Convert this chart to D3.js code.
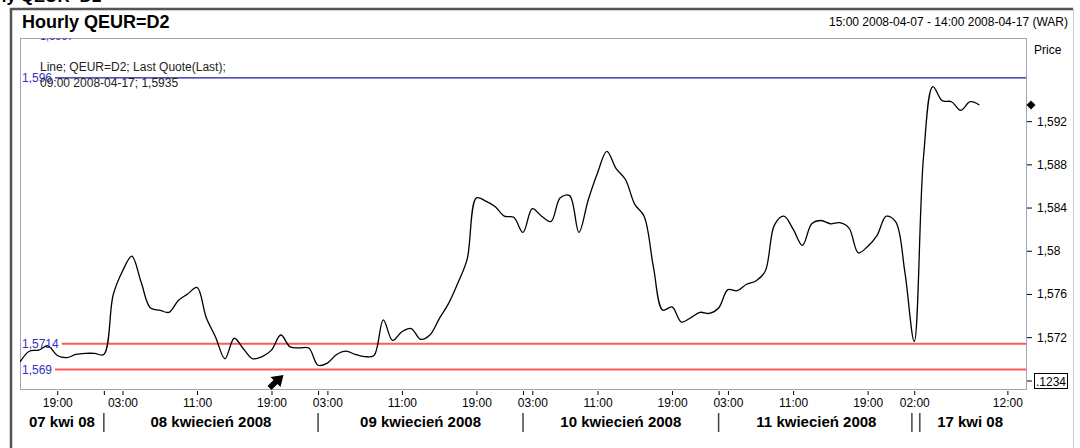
<!DOCTYPE html>
<html>
<head>
<meta charset="utf-8">
<script src="https://cdn.jsdelivr.net/npm/d3@7"></script>
<style>
  body { margin: 0; background: #fff; }
  svg { display: block; font-family: "Liberation Sans", Arial, sans-serif; }
</style>
</head>
<body>
<div id="chart"></div>
<script>
// trading days and the hours that have a quote (hours with no quotes are skipped)
const days = ["2008-04-07", "2008-04-08", "2008-04-09", "2008-04-10", "2008-04-11", "2008-04-17"];
const dayLabels = ["07 kwi 08", "08 kwiecień 2008", "09 kwiecień 2008", "10 kwiecień 2008", "11 kwiecień 2008", "17 kwi 08"];
const dayHours = [
  [15, 16, 17, 18, 19, 20, 21, 22, 23],
  [0, 2, 3, 4, 5, 6, 7, 8, 9, 10, 11, 12, 13, 14, 15, 16, 17, 18, 19, 20, 21, 22, 23],
  [0, 3, 4, 5, 6, 7, 8, 9, 10, 11, 12, 13, 14, 15, 16, 17, 18, 19, 20, 21, 22, 23],
  [0, 3, 5, 6, 7, 8, 9, 10, 11, 12, 13, 14, 15, 16, 17, 18, 19, 20, 21, 22, 23],
  [0, 3, 5, 6, 7, 8, 9, 10, 11, 12, 13, 14, 15, 16, 17, 18, 19, 20, 21, 22, 23],
  [2, 3, 4, 5, 6, 7, 8, 9, 10, 11, 12, 13, 14]
];
// labelled hours on each day
const tickHours = [[19], [3, 11, 19], [3, 11, 19], [3, 11, 19], [3, 11, 19], [2, 12]];

// hourly last quote, 07-04 15:00 .. 17-04 09:00
const price = [
  1.5697, 1.5707, 1.5708, 1.5712, 1.5703, 1.5701, 1.5704, 1.5705, 1.5705,
  1.5704, 1.5759, 1.5781, 1.5795, 1.5771, 1.5747, 1.5745, 1.5743, 1.5754, 1.5760, 1.5766,
  1.5738, 1.5720, 1.5700, 1.5719, 1.5709, 1.5700, 1.5702, 1.5708, 1.5722, 1.5711, 1.5710, 1.5710,
  1.5694, 1.5696, 1.5704, 1.5707, 1.5704, 1.5702, 1.5703, 1.5736, 1.5717, 1.5725, 1.5728,
  1.5718, 1.5722, 1.5737, 1.5751, 1.5770, 1.5792, 1.5849, 1.5846, 1.5841, 1.5832, 1.5831,
  1.5817, 1.5839, 1.5832, 1.5827, 1.5849, 1.5851, 1.5817, 1.5847, 1.5872, 1.5892,
  1.5876, 1.5866, 1.5843, 1.5832, 1.5785, 1.5745, 1.5748, 1.5734, 1.5738, 1.5743, 1.5742,
  1.5747, 1.5764, 1.5763, 1.5769, 1.5772, 1.5781, 1.5824, 1.5832, 1.5820, 1.5805, 1.5825,
  1.5828, 1.5825, 1.5826, 1.5821, 1.5798, 1.5804, 1.5814, 1.5832, 1.5827, 1.5780,
  1.5716, 1.5887, 1.5952, 1.5939, 1.5938, 1.5930, 1.5938, 1.5935
];

const refLines = [1.5714, 1.569];   // red
const highLine = 1.596;             // blue
const yTicks = [1.572, 1.576, 1.58, 1.584, 1.588, 1.592];

const W = 1080, H = 448;
const plot = {left: 20, top: 38, right: 1026, bottom: 389};

const pl = d3.formatLocale({decimal: ",", thousands: " ", grouping: [3], currency: ["", " zł"]});
const fmt = pl.format(".4~f");
const pad = d => String(d).padStart(2, "0");

// flatten days into one ordinal time line
const points = [];
days.forEach((day, di) => {
  dayHours[di].forEach(h => points.push({day: di, date: day, hour: h, i: points.length}));
});
points.forEach(p => { p.value = price[p.i]; });
const quotes = points.filter(p => p.value !== undefined);

const x = d3.scaleLinear().domain([0, points.length - 1]).range([plot.left, plot.right]);
const y = d3.scaleLinear().domain([1.5672, 1.5997]).range([plot.bottom, plot.top]);

const svg = d3.select("#chart").append("svg")
    .attr("width", W).attr("height", H);

svg.append("defs").append("clipPath").attr("id", "clip")
  .append("rect")
    .attr("x", plot.left).attr("y", plot.top)
    .attr("width", plot.right - plot.left).attr("height", plot.bottom - plot.top);

// window heading cut off at the top
svg.append("text")
    .attr("x", -38).attr("y", 2)
    .style("font-size", "17px").style("font-weight", "bold")
    .text("Hourly QEUR=D2");

// outer frame
svg.append("path")
    .attr("d", `M11,${H} V9 H1073`)
    .attr("fill", "none").attr("stroke", "#555").attr("stroke-width", 2.5);
svg.append("line")
    .attr("x1", 1073.5).attr("x2", 1073.5).attr("y1", 9).attr("y2", H)
    .attr("stroke", "#ccc");

svg.append("text")
    .attr("x", 22).attr("y", 28)
    .style("font-size", "18px").style("font-weight", "bold")
    .text("Hourly QEUR=D2");

const first = points[0], last = points[points.length - 1];
svg.append("text")
    .attr("x", 1068).attr("y", 26)
    .attr("text-anchor", "end")
    .style("font-size", "12px")
    .text(`${pad(first.hour)}:00 ${first.date} - ${pad(last.hour)}:00 ${last.date} (WAR)`);

svg.append("text")
    .attr("x", 1034).attr("y", 54)
    .style("font-size", "12px")
    .text("Price");

// plot box
svg.append("rect")
    .attr("x", plot.left + 0.5).attr("y", plot.top + 0.5)
    .attr("width", plot.right - plot.left).attr("height", plot.bottom - plot.top)
    .attr("fill", "#fff").attr("stroke", "#a4a4b8");

const g = svg.append("g").attr("clip-path", "url(#clip)");

// value label clipped at the top edge
g.append("text")
    .attr("x", 40).attr("y", 40)
    .attr("fill", "#2a2ab0")
    .style("font-size", "11px")
    .text(fmt(y.domain()[1]));

// reference lines with labels
function refLine(v, color, labelColor, width) {
  const t = svg.append("text")
      .attr("x", 22).attr("y", y(v) + 4)
      .attr("fill", labelColor)
      .style("font-size", "12px")
      .text(fmt(v));
  const x0 = 22 + t.node().getComputedTextLength() + 3;
  g.append("line")
      .attr("x1", x0).attr("x2", plot.right)
      .attr("y1", y(v)).attr("y2", y(v))
      .attr("stroke", color).attr("stroke-width", width);
  t.raise();
}
refLines.forEach(v => refLine(v, "#ff5a5a", "#3232c0", 2));
refLine(highLine, "#1a1aa8", "#3232c0", 1.2);

// legend
const lastQ = quotes[quotes.length - 1];
svg.append("text")
    .attr("x", 40).attr("y", 71)
    .style("font-size", "12px").attr("fill", "#222")
    .text("Line; QEUR=D2; Last Quote(Last);");
svg.append("text")
    .attr("x", 40).attr("y", 87)
    .style("font-size", "12px").attr("fill", "#222")
    .text(`${pad(lastQ.hour)}:00 ${lastQ.date}; ${fmt(lastQ.value)}`);

// price line
const line = d3.line()
    .x(d => x(d.i))
    .y(d => y(d.value))
    .curve(d3.curveCatmullRom.alpha(0.5));
g.append("path")
    .datum(quotes)
    .attr("d", line)
    .attr("fill", "none")
    .attr("stroke", "#000")
    .attr("stroke-width", 1.3);

// arrow marker under the line
const ax = x(27), ay = plot.bottom;
svg.append("path")
    .attr("transform", `translate(${ax - 2},${ay})`)
    .attr("d", "M14,-14 L1,-12 L4,-9 L-2,-3 L2,1 L8,-5 L11,-2 Z")
    .attr("fill", "#000");

// right axis
const yAxis = svg.append("g")
    .attr("transform", `translate(${plot.right + 1},0)`)
    .call(d3.axisRight(y).tickValues(yTicks).tickSize(5).tickPadding(5).tickFormat(fmt));
yAxis.select(".domain").remove();
yAxis.selectAll("text").style("font-size", "12px").style("font-family", "Liberation Sans, Arial, sans-serif");

// last value marker
svg.append("path")
    .attr("d", d3.symbol(d3.symbolSquare, 40)())
    .attr("transform", `translate(${plot.right + 5},${y(lastQ.value)}) rotate(45)`)
    .attr("fill", "#000");

// crosshair value box
const boxY = plot.bottom - 8;
svg.append("line")
    .attr("x1", plot.right + 1).attr("x2", plot.right + 6)
    .attr("y1", boxY).attr("y2", boxY).attr("stroke", "#000");
svg.append("rect")
    .attr("x", plot.right + 8.5).attr("y", boxY - 7.5)
    .attr("width", 33).attr("height", 15)
    .attr("fill", "#fff").attr("stroke", "#000");
svg.append("text")
    .attr("x", plot.right + 10).attr("y", boxY + 4.5)
    .style("font-size", "12px")
    .text(".1234");

// bottom axis: hour ticks
const dayStart = days.map((d, di) => points.find(p => p.day === di));
const tickPts = points.filter(p => tickHours[p.day].includes(p.hour) || (p.hour === dayStart[p.day].hour && p.day > 0));
const xAxis = svg.append("g")
    .attr("transform", `translate(0,${plot.bottom + 2})`)
    .call(d3.axisBottom(x)
        .tickValues(tickPts.map(p => p.i))
        .tickSize(4).tickPadding(3)
        .tickFormat(i => {
          const p = points[i];
          return tickHours[p.day].includes(p.hour) ? pad(p.hour) + ":00" : "";
        }));
xAxis.select(".domain").remove();
xAxis.selectAll("text").style("font-size", "12px").style("font-family", "Liberation Sans, Arial, sans-serif");

// day separators and day labels
const sepTop = 413, sepBot = 432;
const bounds = [];
dayStart.forEach((p, di) => {
  if (di === 0) { bounds.push(plot.left); return; }
  const gap = days[di] !== d3.timeFormat("%Y-%m-%d")(d3.timeDay.offset(new Date(days[di - 1] + "T12:00"), 1));
  const xs = gap ? [x(p.i - 0.25), x(p.i + 0.6)] : [x(p.i)];
  xs.forEach(xv => {
    svg.append("line")
        .attr("x1", xv).attr("x2", xv).attr("y1", sepTop).attr("y2", sepBot)
        .attr("stroke", "#444").attr("stroke-width", 1.5);
  });
  bounds.push(x(p.i));
});
bounds.push(plot.right);

svg.selectAll(".daylabel")
  .data(dayLabels)
  .enter().append("text")
    .attr("class", "daylabel")
    .attr("x", (d, di) => (bounds[di] + bounds[di + 1]) / 2)
    .attr("y", 427)
    .attr("text-anchor", "middle")
    .style("font-size", "15px").style("font-weight", "bold")
    .text(d => d);
</script>
</body>
</html>
